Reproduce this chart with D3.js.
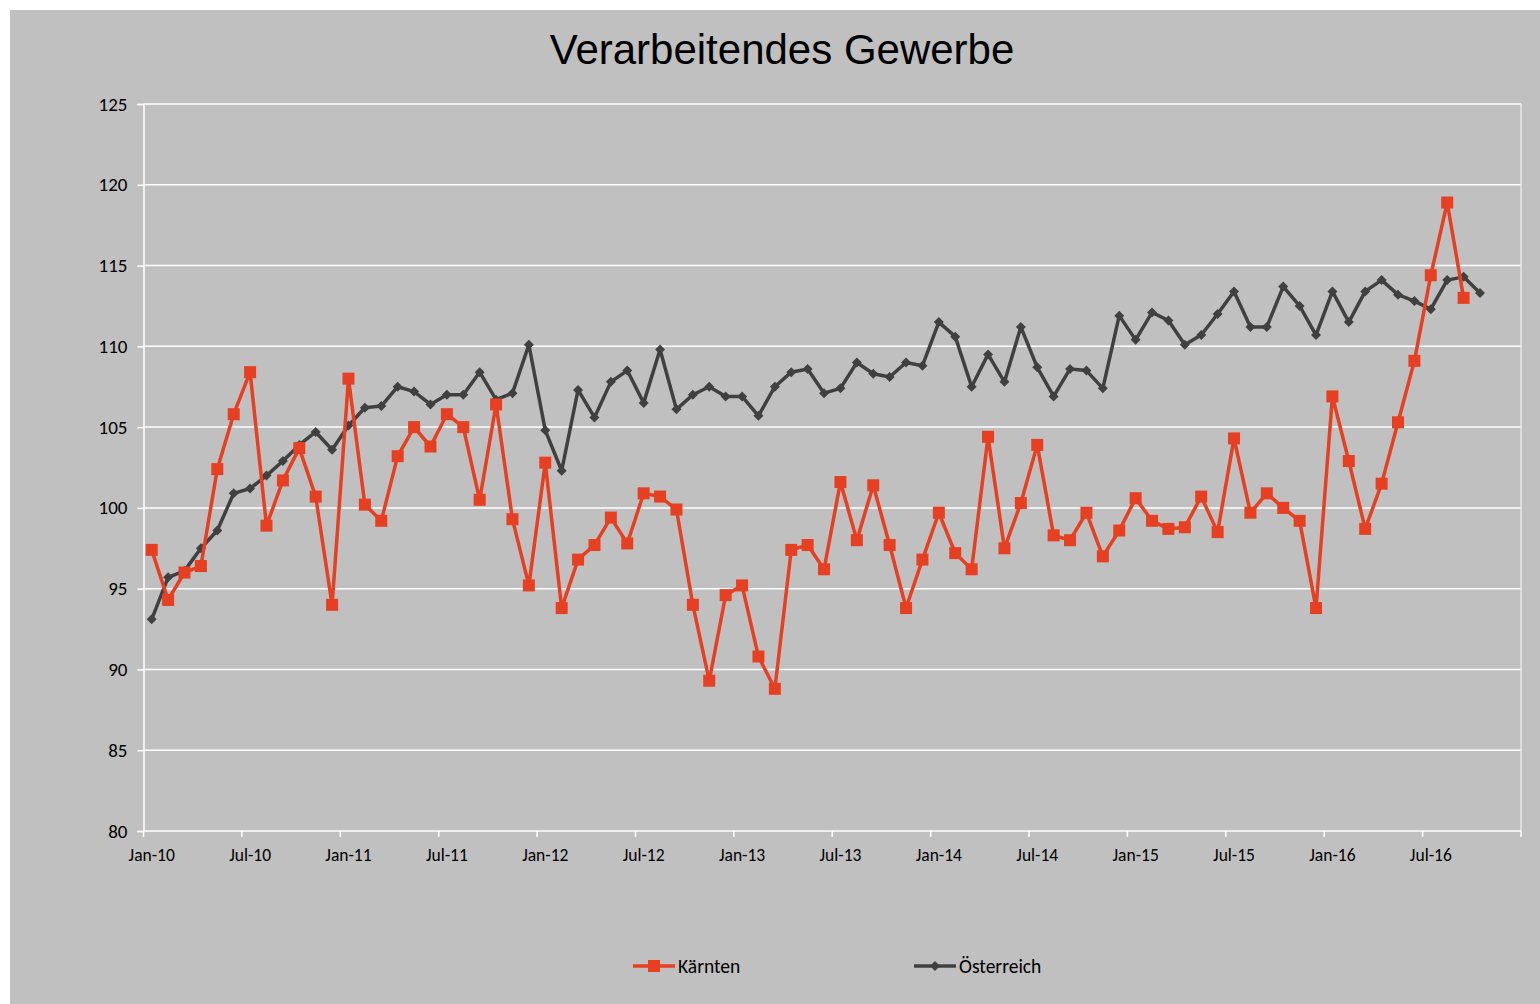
<!DOCTYPE html>
<html>
<head>
<meta charset="utf-8">
<script src="https://cdn.jsdelivr.net/npm/d3@7/dist/d3.min.js"></script>
<style>
  html, body { margin: 0; padding: 0; background: #ffffff; }
  svg { display: block; }
</style>
</head>
<body>
<svg id="chart" width="1540" height="1004"></svg>
<script>
// ---- data ----
const monthNames = ["Jan","Feb","Mar","Apr","May","Jun","Jul","Aug","Sep","Oct","Nov","Dec"];
const years = [10, 11, 12, 13, 14, 15, 16];
const categories = [];
years.forEach(y => monthNames.forEach(m => categories.push(m + "-" + y)));

const kaernten = [
  97.4, 94.3, 96.0, 96.4, 102.4, 105.8, 108.4, 98.9, 101.7, 103.7, 100.7, 94.0,
  108.0, 100.2, 99.2, 103.2, 105.0, 103.8, 105.8, 105.0, 100.5, 106.4, 99.3, 95.2,
  102.8, 93.8, 96.8, 97.7, 99.4, 97.8, 100.9, 100.7, 99.9, 94.0, 89.3, 94.6,
  95.2, 90.8, 88.8, 97.4, 97.7, 96.2, 101.6, 98.0, 101.4, 97.7, 93.8, 96.8,
  99.7, 97.2, 96.2, 104.4, 97.5, 100.3, 103.9, 98.3, 98.0, 99.7, 97.0, 98.6,
  100.6, 99.2, 98.7, 98.8, 100.7, 98.5, 104.3, 99.7, 100.9, 100.0, 99.2, 93.8,
  106.9, 102.9, 98.7, 101.5, 105.3, 109.1, 114.4, 118.9, 113.0
];
const oesterreich = [
  93.1, 95.7, 96.1, 97.5, 98.6, 100.9, 101.2, 102.0, 102.9, 103.9, 104.7, 103.6,
  105.1, 106.2, 106.3, 107.5, 107.2, 106.4, 107.0, 107.0, 108.4, 106.7, 107.1, 110.1,
  104.8, 102.3, 107.3, 105.6, 107.8, 108.5, 106.5, 109.8, 106.1, 107.0, 107.5, 106.9,
  106.9, 105.7, 107.5, 108.4, 108.6, 107.1, 107.4, 109.0, 108.3, 108.1, 109.0, 108.8,
  111.5, 110.6, 107.5, 109.5, 107.8, 111.2, 108.7, 106.9, 108.6, 108.5, 107.4, 111.9,
  110.4, 112.1, 111.6, 110.1, 110.7, 112.0, 113.4, 111.2, 111.2, 113.7, 112.5, 110.7,
  113.4, 111.5, 113.4, 114.1, 113.2, 112.8, 112.3, 114.1, 114.3, 113.3
];
const yTicks = [80, 85, 90, 95, 100, 105, 110, 115, 120, 125];
const xTickLabels = categories.filter(c => c.startsWith("Jan") || c.startsWith("Jul"));
const seriesNames = ["Kärnten", "Österreich"];
const title = "Verarbeitendes Gewerbe";

// ---- layout ----
const svg = d3.select("#chart");
const W = 1540, H = 1004;
const plot = { left: 143.5, right: 1521, top: 104, bottom: 831 };
const labelFont = "'Liberation Sans Narrow', 'Carlito', Lato, sans-serif";
const colK = "#e63f21", colO = "#404040";

svg.append("rect").attr("x", 10).attr("y", 10).attr("width", W - 10).attr("height", H - 10).attr("fill", "#c0c0c0");

svg.append("text").attr("x", 782).attr("y", 64).attr("text-anchor", "middle")
  .attr("font-family", "'Liberation Sans', Arial, sans-serif").attr("font-size", 42)
  .attr("fill", "#000").text(title);

const x = d3.scaleBand().domain(categories).range([plot.left, plot.right]).paddingInner(0).paddingOuter(0);
const y = d3.scaleLinear().domain([80, 125]).range([plot.bottom, plot.top]);
const cx = c => x(c) + x.bandwidth() / 2;

// gridlines
svg.append("g").selectAll("line").data(yTicks.filter(t => t > 80)).join("line")
  .attr("x1", plot.left).attr("x2", plot.right)
  .attr("y1", d => y(d)).attr("y2", d => y(d))
  .attr("stroke", "#ffffff").attr("stroke-width", 1.5);

// right border
svg.append("line").attr("x1", plot.right).attr("x2", plot.right).attr("y1", plot.top).attr("y2", plot.bottom)
  .attr("stroke", "#e8e8e8").attr("stroke-width", 1.5);

// y axis
const yAxis = d3.axisLeft(y).tickValues(yTicks).tickSize(6).tickPadding(10).tickFormat(d3.format("d"));
const gy = svg.append("g").attr("transform", `translate(${plot.left},0)`).call(yAxis);
gy.select(".domain").attr("stroke", "#ffffff").attr("stroke-width", 1.5);
gy.selectAll(".tick line").attr("stroke", "#ffffff").attr("stroke-width", 1.5);
gy.selectAll(".tick text").attr("font-family", labelFont).attr("font-size", 19).attr("fill", "#000");

// x axis: labels at category centers, ticks at boundaries every 6 months
const xAxis = d3.axisBottom(x).tickValues(xTickLabels).tickSize(0).tickPadding(18);
const gx = svg.append("g").attr("transform", `translate(0,${plot.bottom})`).call(xAxis);
gx.select(".domain").remove();
gx.selectAll(".tick text").attr("font-family", labelFont).attr("font-size", 17.5).attr("fill", "#000");
svg.append("line").attr("x1", plot.left).attr("x2", plot.right).attr("y1", plot.bottom).attr("y2", plot.bottom)
  .attr("stroke", "#ffffff").attr("stroke-width", 1.5);
const boundaries = categories.filter((c, i) => i % 6 === 0).map(c => x(c)).concat([plot.right]);
svg.append("g").selectAll("line").data(boundaries).join("line")
  .attr("x1", d => d).attr("x2", d => d).attr("y1", plot.bottom).attr("y2", plot.bottom + 6)
  .attr("stroke", "#ffffff").attr("stroke-width", 1.5);

// lines
const line = d3.line().x(d => cx(d.c)).y(d => y(d.v));
const dataO = oesterreich.map((v, i) => ({ c: categories[i], v }));
const dataK = kaernten.map((v, i) => ({ c: categories[i], v }));

svg.append("path").datum(dataO).attr("d", line).attr("fill", "none")
  .attr("stroke", colO).attr("stroke-width", 3.5).attr("stroke-linejoin", "round");
const diamond = d3.symbol().type(d3.symbolSquare).size(50);
svg.append("g").selectAll("path").data(dataO).join("path")
  .attr("d", diamond)
  .attr("transform", d => `translate(${cx(d.c)},${y(d.v)}) rotate(45)`)
  .attr("fill", colO);

svg.append("path").datum(dataK).attr("d", line).attr("fill", "none")
  .attr("stroke", colK).attr("stroke-width", 3.5).attr("stroke-linejoin", "round");
svg.append("g").selectAll("rect").data(dataK).join("rect")
  .attr("x", d => cx(d.c) - 6).attr("y", d => y(d.v) - 6)
  .attr("width", 12).attr("height", 12).attr("fill", colK);

// legend
const legend = [
  { name: seriesNames[0], x0: 633, color: colK, marker: "square" },
  { name: seriesNames[1], x0: 914, color: colO, marker: "diamond" }
];
const ly = 966;
legend.forEach(l => {
  const g = svg.append("g");
  g.append("line").attr("x1", l.x0).attr("x2", l.x0 + 42).attr("y1", ly).attr("y2", ly)
    .attr("stroke", l.color).attr("stroke-width", 3.5);
  if (l.marker === "square") {
    g.append("rect").attr("x", l.x0 + 21 - 6).attr("y", ly - 6).attr("width", 12).attr("height", 12).attr("fill", l.color);
  } else {
    g.append("path").attr("d", diamond).attr("transform", `translate(${l.x0 + 21},${ly}) rotate(45)`).attr("fill", l.color);
  }
  g.append("text").attr("x", l.x0 + 45).attr("y", ly + 7).attr("font-family", labelFont)
    .attr("font-size", 19.5).attr("fill", "#000").text(l.name);
});
</script>
</body>
</html>
